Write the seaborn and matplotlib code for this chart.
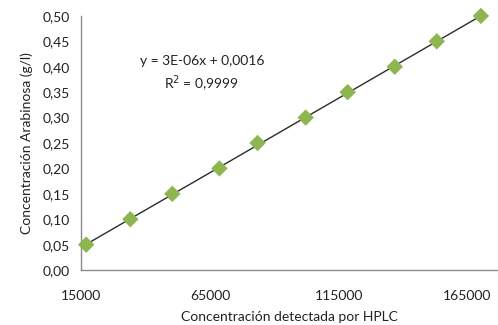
import numpy as np
import pandas as pd
import matplotlib
matplotlib.use("Agg")
import matplotlib.pyplot as plt
import seaborn as sns

# Calibration points: HPLC signal vs. arabinose concentration
hplc_signal = [16950, 34100, 50400, 68700, 83500, 102200, 118500, 136800, 153100, 170250]
arabinose = [0.05, 0.10, 0.15, 0.20, 0.25, 0.30, 0.35, 0.40, 0.45, 0.50]
x_ticks = [15000, 65000, 115000, 165000]
y_ticks = [0.00, 0.05, 0.10, 0.15, 0.20, 0.25, 0.30, 0.35, 0.40, 0.45, 0.50]

df = pd.DataFrame({"x": hplc_signal, "y": arabinose})

sns.set_style("white")
plt.rcParams["font.family"] = ["Lato", "DejaVu Sans"]

fig = plt.figure(figsize=(4.98, 3.25), dpi=100)
ax = fig.add_axes([0.163, 0.169, 0.835, 0.782])

# linear trendline
slope, intercept = np.polyfit(df["x"], df["y"], 1)
xs = np.array([df["x"].min(), df["x"].max()])
ax.plot(xs, slope * xs + intercept, color="#2b2b2b", lw=1.0, zorder=2, clip_on=False)

sns.scatterplot(data=df, x="x", y="y", ax=ax, marker="D", s=70,
                color="#8DB650", edgecolor="none", zorder=3, clip_on=False)

ax.set_xlim(15000, 176500)
ax.set_ylim(0, 0.5)
ax.set_xticks(x_ticks)
ax.set_xticklabels([str(v) for v in x_ticks])
ax.set_yticks(y_ticks)
ax.set_yticklabels([f"{v:.2f}".replace(".", ",") for v in y_ticks])

for side in ["top", "right"]:
    ax.spines[side].set_visible(False)
for side in ["left", "bottom"]:
    ax.spines[side].set_color("#8c8c8c")
    ax.spines[side].set_linewidth(1.0)

ax.tick_params(axis="both", which="major", length=4, width=1, color="#8c8c8c",
               labelsize=10, labelcolor="#222222", direction="out")
ax.tick_params(axis="y", pad=4)
ax.tick_params(axis="x", pad=10)
ax.set_xlabel("Concentración detectada por HPLC", fontsize=10, color="#222222", labelpad=7)
ax.set_ylabel("Concentración Arabinosa (g/l)", fontsize=10, color="#222222", labelpad=7)

ax.text(0.29, 0.77, "y = 3E-06x + 0,0016\nR$^2$ = 0,9999", transform=ax.transAxes,
        ha="center", va="center", fontsize=10, color="#222222", linespacing=1.45)

fig.savefig("out.png", dpi=100)
